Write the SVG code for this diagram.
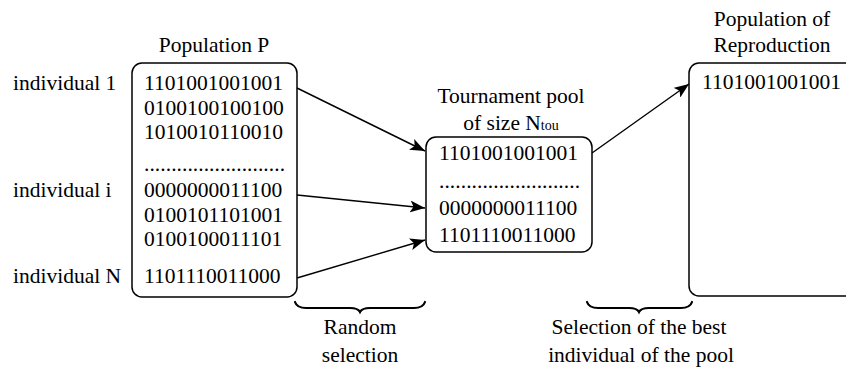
<svg xmlns="http://www.w3.org/2000/svg" width="846" height="369" viewBox="0 0 846 369" font-family="'Liberation Serif', 'Times New Roman', serif" font-size="21.5">
<style>
text{font-family:'Liberation Serif','Times New Roman',serif;font-size:21.5px;fill:#000}
.mid{text-anchor:middle}
.box{fill:#fff;stroke:#000;stroke-width:1.5}
.conn{stroke:#000;stroke-width:1.4;fill:none}
.brace{stroke:#000;stroke-width:2.2;fill:none;stroke-linecap:round}
.sub{font-size:14px}
</style>
<defs>
<marker id="ah" markerUnits="userSpaceOnUse" markerWidth="16" markerHeight="12" refX="15" refY="6" orient="auto">
<path d="M0,0 L15,6 L0,12 L3.5,6 Z" fill="#000"/>
</marker>
</defs>
<rect width="846" height="369" fill="#fff"/>
<g id="labels" font-family="'Liberation Serif', serif">
<text x="13" y="90">individual 1</text>
<text x="13" y="197">individual i</text>
<text x="13" y="283">individual N</text>
</g>
<g id="population" font-family="'Liberation Serif', serif">
<text class="mid" x="214" y="52">Population P</text>
<rect class="box" x="132" y="63" width="165" height="234" rx="10"/>
<text x="144" y="90">1101001001001</text>
<text x="144" y="115">0100100100100</text>
<text x="144" y="139">1010010110010</text>
<text x="144" y="171" textLength="141" lengthAdjust="spacing">..........................</text>
<text x="144" y="197">0000000011100</text>
<text x="144" y="222">0100101101001</text>
<text x="144" y="246">0100100011101</text>
<text x="144" y="283">1101110011000</text>
</g>
<g id="tournament" font-family="'Liberation Serif', serif">
<text class="mid" x="511" y="103">Tournament pool</text>
<text class="mid" x="511" y="130">of size N<tspan class="sub">tou</tspan></text>
<rect class="box" x="426" y="137" width="166" height="115" rx="10"/>
<text x="439" y="160">1101001001001</text>
<text x="439" y="188" textLength="141" lengthAdjust="spacing">..........................</text>
<text x="439" y="215">0000000011100</text>
<text x="439" y="242">1101110011000</text>
</g>
<g id="reproduction" font-family="'Liberation Serif', serif">
<text class="mid" x="772" y="26">Population of</text>
<text class="mid" x="772" y="52">Reproduction</text>
<rect class="box" x="689" y="63" width="200" height="233" rx="10"/>
<text x="702" y="89">1101001001001</text>
</g>
<g id="connectors">
<line class="conn" x1="297" y1="88" x2="425" y2="151" marker-end="url(#ah)"/>
<line class="conn" x1="297" y1="195" x2="425" y2="208" marker-end="url(#ah)"/>
<line class="conn" x1="297" y1="278" x2="425" y2="240" marker-end="url(#ah)"/>
<line class="conn" x1="592" y1="153" x2="689" y2="84" marker-end="url(#ah)"/>
</g>
<g id="random-selection" font-family="'Liberation Serif', serif">
<path class="brace" d="M295,302 Q297,308 306,308 L350,308 Q358,308 360,312 Q362,308 370,308 L414,308 Q423,308 425,302"/>
<text class="mid" x="360" y="334">Random</text>
<text class="mid" x="360" y="362">selection</text>
</g>
<g id="best-selection" font-family="'Liberation Serif', serif">
<path class="brace" d="M587,302 Q589,308 598,308 L629,308 Q637,308 639,312 Q641,308 649,308 L681,308 Q690,308 692,302"/>
<text class="mid" x="639" y="334">Selection of the best</text>
<text class="mid" x="641" y="362">individual of the pool</text>
</g>
</svg>
